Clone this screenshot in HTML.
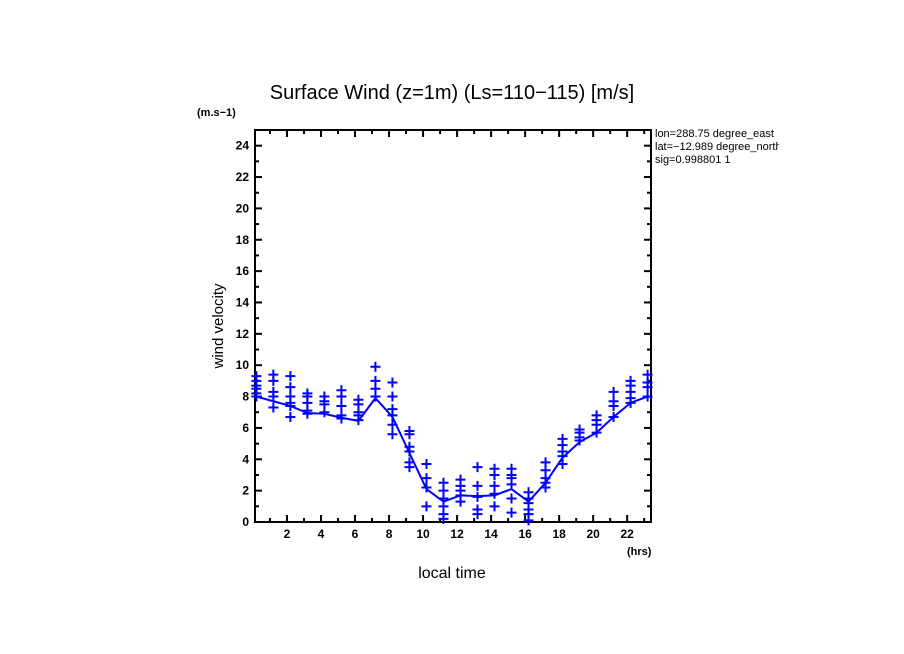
<!DOCTYPE html>
<html><head><meta charset="utf-8"><style>
body{margin:0;background:#fff;width:904px;height:654px;overflow:hidden}
svg{display:block;font-family:"Liberation Sans",sans-serif}
</style></head><body>
<svg id="chart" width="904" height="654">
<text x="452" y="99" font-size="20" text-anchor="middle">Surface Wind (z=1m) (Ls=110−115) [m/s]</text>
<text x="197" y="116" font-size="11" font-weight="bold">(m.s−1)</text>
<text transform="translate(223,326) rotate(-90)" font-size="15" text-anchor="middle">wind velocity</text>
<text x="452" y="578" font-size="16" text-anchor="middle">local time</text>
<text x="627" y="555" font-size="11" font-weight="bold">(hrs)</text>
<svg x="655" y="126" width="124" height="50">
<text x="0" y="11" font-size="11">lon=288.75 degree_east</text>
<text x="0" y="24" font-size="11">lat=−12.989 degree_north</text>
<text x="0" y="37" font-size="11">sig=0.998801 1</text>
</svg>
<g id="axes"></g><g id="marks"></g>
</svg>
<script>
const times=[0.2,1.2,2.2,3.2,4.2,5.2,6.2,7.2,8.2,9.2,10.2,11.2,12.2,13.2,14.2,15.2,16.2,17.2,18.2,19.2,20.2,21.2,22.2,23.2];
const meanValues=[8.0,7.7,7.4,6.95,6.9,6.65,6.45,7.9,6.7,4.4,2.1,1.3,1.7,1.65,1.7,2.1,1.3,2.5,4.1,5.1,5.7,6.7,7.6,8.0];
const scatterValues=[[9.3,9.0,8.7,8.5,8.2,8.0],[9.4,9.0,8.3,8.0,7.3],[9.3,8.6,8.0,7.6,7.4,6.7],[8.2,8.0,7.6,7.1,6.9],[8.0,7.7,7.5,7.0],[8.4,8.0,7.4,6.8,6.6],[7.8,7.5,7.0,6.8,6.5],[9.9,9.0,8.5,8.0],[8.9,8.0,7.2,6.8,6.2,5.6],[5.8,5.6,4.8,4.5,3.8,3.5],[3.7,2.8,2.2,1.0],[2.5,2.0,1.5,1.0,0.5,0.2],[2.7,2.3,2.0,1.7,1.3],[3.5,2.3,1.6,0.8,0.5],[3.4,3.0,2.3,1.8,1.0],[3.4,3.0,2.8,2.4,1.5,0.6],[1.9,1.5,1.2,0.8,0.5,0.1],[3.8,3.3,2.8,2.5,2.2],[5.3,4.9,4.5,4.2,3.7],[5.9,5.7,5.4,5.2],[6.8,6.5,6.2,5.7],[8.3,7.7,7.4,6.7],[9.0,8.7,8.3,7.9,7.6],[9.4,8.9,8.6,8.0]];
const xTickLabels=[2,4,6,8,10,12,14,16,18,20,22];
const yTickLabels=[0,2,4,6,8,10,12,14,16,18,20,22,24];
const NS="http://www.w3.org/2000/svg";
const L=255,R=651,T=130,B=522,X0=0.12,X1=23.4,Y1=25;
const sx=t=>L+(t-X0)*(R-L)/(X1-X0);
const sy=v=>B-v*(B-T)/Y1;
function mk(tag,attrs,parent){const e=document.createElementNS(NS,tag);for(const k in attrs)e.setAttribute(k,attrs[k]);parent.appendChild(e);return e;}
const ax=document.getElementById('axes'),mg=document.getElementById('marks');
const frame=mk('rect',{x:L,y:T,width:R-L,height:B-T,fill:'none',stroke:'#000','stroke-width':2},ax);


for(let h=1;h<=23;h++){const x=sx(h),len=h%2?4:7;
 mk('line',{x1:x,x2:x,y1:B,y2:B-len,stroke:'#000','stroke-width':2},ax);
 mk('line',{x1:x,x2:x,y1:T,y2:T+len,stroke:'#000','stroke-width':2},ax);}
for(let v=1;v<=24;v++){const y=sy(v),len=v%2?4:7;
 mk('line',{x1:L,x2:L+len,y1:y,y2:y,stroke:'#000','stroke-width':2},ax);
 mk('line',{x1:R,x2:R-len,y1:y,y2:y,stroke:'#000','stroke-width':2},ax);}
xTickLabels.forEach(h=>{const t=mk('text',{x:sx(h),y:B+16,'font-size':12,'font-weight':'bold','text-anchor':'middle'},ax);t.textContent=h;
 
 });
yTickLabels.forEach(v=>{const t=mk('text',{x:L-6,y:sy(v)+4,'font-size':12,'font-weight':'bold','text-anchor':'end'},ax);t.textContent=v;
 
 });
const pts=times.map((t,i)=>sx(t)+','+sy(meanValues[i])).join(' ');
const line=mk('polyline',{points:pts,fill:'none',stroke:'#0000ff','stroke-width':2},mg);


scatterValues.forEach((arr,i)=>arr.forEach(v=>{const x=sx(times[i]),y=sy(v);
 const p=mk('path',{d:`M${x-5},${y}H${x+5}M${x},${y-5}V${y+5}`,stroke:'#0000ff','stroke-width':2},mg);
 
 }));
</script>
</body></html>
